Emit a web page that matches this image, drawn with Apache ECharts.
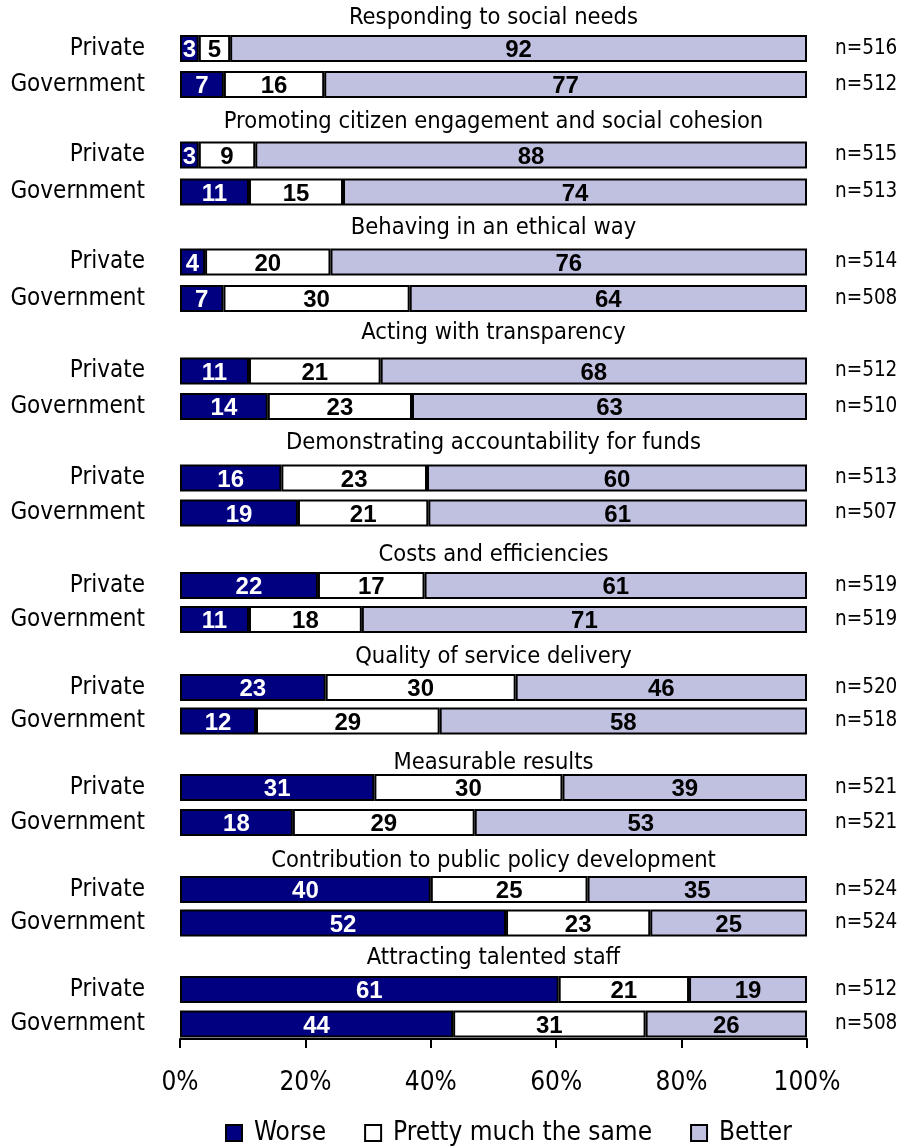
<!DOCTYPE html>
<html>
<head>
<meta charset="utf-8">
<script src="https://cdn.jsdelivr.net/npm/echarts@6/dist/echarts.min.js"></script>
<style>
  html, body { margin: 0; padding: 0; background: #fff; }
  #chart { width: 899px; height: 1146px; }
</style>
</head>
<body>
<div id="chart"></div>
<script>
// Survey topics (one pair of bars per topic)
const topics = [
  'Responding to social needs',
  'Promoting citizen engagement and social cohesion',
  'Behaving in an ethical way',
  'Acting with transparency',
  'Demonstrating accountability for funds',
  'Costs and efficiencies',
  'Quality of service delivery',
  'Measurable results',
  'Contribution to public policy development',
  'Attracting talented staff'
];
const sectors = ['Private', 'Government'];
const answers = ['Worse', 'Pretty much the same', 'Better'];

// Percent of respondents per answer
const worsePrivate    = [3, 3, 4, 11, 16, 22, 23, 31, 40, 61];
const samePrivate     = [5, 9, 20, 21, 23, 17, 30, 30, 25, 21];
const betterPrivate   = [92, 88, 76, 68, 60, 61, 46, 39, 35, 19];
const worseGovernment = [7, 11, 7, 14, 19, 11, 12, 18, 52, 44];
const sameGovernment  = [16, 15, 30, 23, 21, 18, 29, 29, 23, 31];
const betterGovernment= [77, 74, 64, 63, 61, 71, 58, 53, 25, 26];

// Sample sizes
const nPrivate    = [516, 515, 514, 512, 513, 519, 520, 521, 524, 512];
const nGovernment = [512, 513, 508, 510, 507, 519, 518, 521, 524, 508];

// Percentage axis ticks
const axisTicks = [0, 20, 40, 60, 80, 100];

// Vertical layout (pixel centres of topic headings and bar rows)
const titleY   = [18, 122, 228, 333, 443, 555, 657, 763, 861, 958];
const privateY = [48.5, 155, 262, 371, 478, 585.5, 687.5, 787.5, 889.5, 989.5];
const governY  = [84.5, 192, 298.5, 406.5, 513, 619.5, 721, 822.5, 923, 1024];

const W = 899, H = 1146;
const plotLeft = 180, plotRight = 807, axisY = 1039;
const colors = ['#000080', '#ffffff', '#c0c0e0'];
const labelColors = ['#ffffff', '#000000', '#000000'];
const narrow = "'Liberation Sans Narrow', 'Arial Narrow', 'DejaVu Sans Condensed', sans-serif";
const bold = "'Liberation Sans', Arial, sans-serif";

const grids = [{ left: plotLeft, right: W - plotRight, top: 30, bottom: H - axisY, outerBoundsMode: 'none', containLabel: false }];
const xAxes = [{
  gridIndex: 0, type: 'value', min: axisTicks[0], max: axisTicks[axisTicks.length - 1],
  interval: axisTicks[1] - axisTicks[0],
  axisLine: { show: true, lineStyle: { color: '#000', width: 2 } },
  axisTick: { show: true, inside: false, length: 9, lineStyle: { color: '#000', width: 2 } },
  splitLine: { show: false },
  axisLabel: { formatter: '{value}%', fontFamily: narrow, fontSize: 26, color: '#000', margin: 31 }
}];
const yAxes = [{ gridIndex: 0, type: 'value', show: false, min: 0, max: 1 }];
const series = [];
const graphics = [];

const rows = [];
topics.forEach((t, i) => {
  rows.push({ sector: sectors[0], y: privateY[i], n: nPrivate[i],
              vals: [worsePrivate[i], samePrivate[i], betterPrivate[i]] });
  rows.push({ sector: sectors[1], y: governY[i], n: nGovernment[i],
              vals: [worseGovernment[i], sameGovernment[i], betterGovernment[i]] });
  graphics.push({
    type: 'text', x: (plotLeft + plotRight) / 2, y: titleY[i],
    style: { text: t, font: '23.5px ' + narrow, fill: '#000', textAlign: 'center', textVerticalAlign: 'middle' }
  });
});

rows.forEach((r, k) => {
  const gi = k + 1;
  const band = 30;
  grids.push({ left: plotLeft, right: W - plotRight, top: r.y - band / 2, height: band, outerBoundsMode: 'none', containLabel: false });
  // each row is a 100% bar: the axis spans the row's own total
  const total = r.vals.reduce((a, b) => a + b, 0);
  xAxes.push({ gridIndex: gi, type: 'value', min: 0, max: total, show: false });
  const yLeft = yAxes.length;
  yAxes.push({
    gridIndex: gi, type: 'category', data: [r.sector], position: 'left',
    axisLine: { show: false }, axisTick: { show: false },
    axisLabel: { fontFamily: narrow, fontSize: 24, color: '#000', margin: 35 }
  });
  yAxes.push({
    gridIndex: gi, type: 'category', data: ['n=' + r.n], position: 'right',
    axisLine: { show: false }, axisTick: { show: false },
    axisLabel: { fontFamily: narrow, fontSize: 20.5, color: '#000', margin: 28 }
  });
  answers.forEach((a, j) => {
    series.push({
      type: 'bar', name: a, stack: 'row' + k,
      xAxisIndex: gi, yAxisIndex: yLeft,
      barWidth: 27,
      data: [r.vals[j]],
      itemStyle: { color: colors[j], borderColor: '#000', borderWidth: 2 },
      label: {
        show: true, position: 'inside', color: labelColors[j],
        fontFamily: bold, fontWeight: 'bold', fontSize: 24, offset: [0, 2]
      },
      emphasis: { disabled: true },
      animation: false
    });
  });
});

const chart = echarts.init(document.getElementById('chart'), null, { renderer: 'canvas' });
chart.setOption({
  backgroundColor: '#fff',
  animation: false,
  grid: grids,
  xAxis: xAxes,
  yAxis: yAxes,
  series: series,
  graphic: graphics,
  legend: {
    data: answers.map((a) => ({ name: a, icon: 'rect' })),
    left: 220, top: 1115,
    itemWidth: 16, itemHeight: 16, itemGap: 38,
    itemStyle: { borderColor: '#000', borderWidth: 2 },
    textStyle: { fontFamily: narrow, fontSize: 26, color: '#000', padding: [0, 0, 0, 7] },
    selectedMode: false
  }
});
</script>
</body>
</html>
